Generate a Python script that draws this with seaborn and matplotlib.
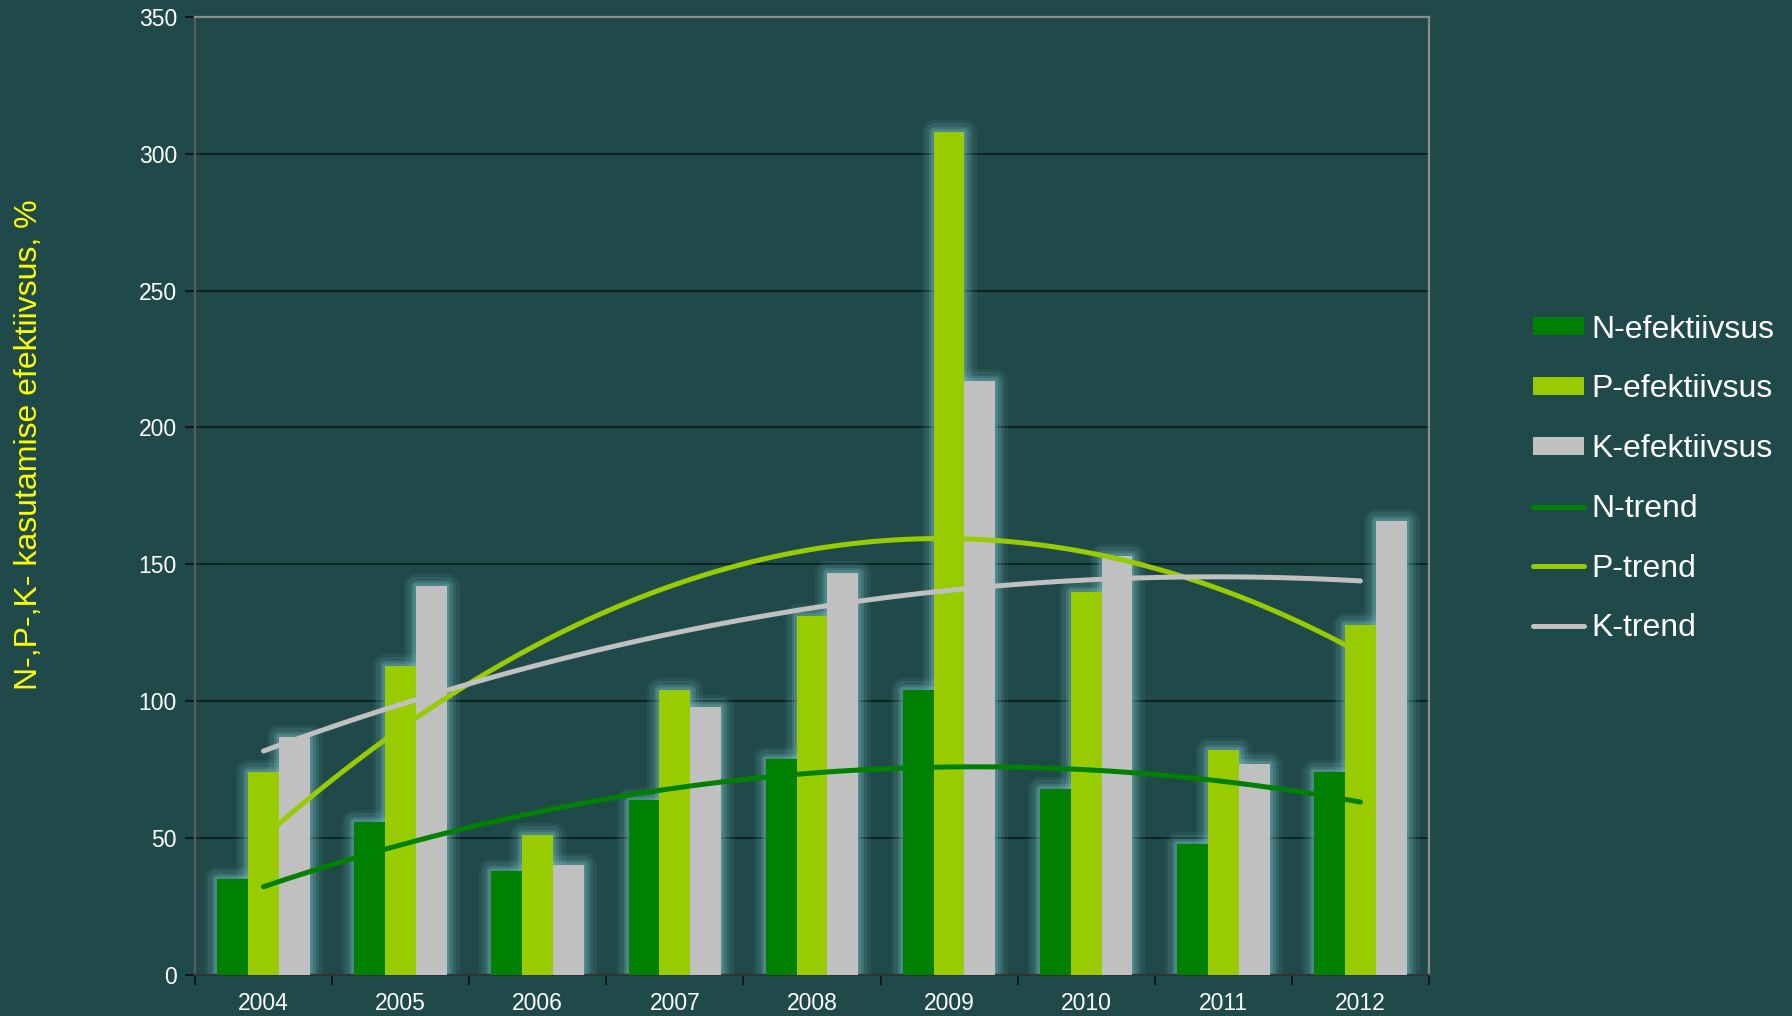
"""
N-, P-, K- kasutamise efektiivsus 2004-2012, tulbad + 2. astme trendijooned.
"""

import matplotlib
matplotlib.use("Agg")
import matplotlib.pyplot as plt
from matplotlib.lines import Line2D
from matplotlib.patches import Patch
import numpy as np
import pandas as pd
import seaborn as sns

# Data
YEARS = ["2004", "2005", "2006", "2007", "2008", "2009", "2010", "2011", "2012"]
N_EFF = [35, 56, 38, 64, 79, 104, 68, 48, 74]
P_EFF = [74, 113, 51, 104, 131, 308, 140, 82, 128]
K_EFF = [87, 142, 40, 98, 147, 217, 153, 77, 166]
SERIES = ["N-efektiivsus", "P-efektiivsus", "K-efektiivsus"]
TRENDS = ["N-trend", "P-trend", "K-trend"]
Y_TICKS = [0, 50, 100, 150, 200, 250, 300, 350]

# Styles
BG = "#204a4a"
COLORS = ["#008000", "#99cc00", "#c0c0c0"]
GLOW = "#7fc4c8"
FONT = ["Liberation Sans", "DejaVu Sans"]

sns.set_theme(style="white")
plt.rcParams["font.family"] = FONT


def main():
    df = pd.DataFrame({
        "aasta": YEARS * 3,
        "vaartus": N_EFF + P_EFF + K_EFF,
        "seeria": [s for s in SERIES for _ in YEARS],
    })

    fig = plt.figure(figsize=(17.92, 10.16), dpi=100, facecolor=BG)
    ax = fig.add_axes([0.1088, 0.0404, 0.6886, 0.943])
    ax.set_facecolor(BG)

    # soft glow behind the bars (several faint wide strokes)
    for lw, alpha in [(18, 0.08), (13, 0.12), (8, 0.18), (4, 0.25)]:
        sns.barplot(data=df, x="aasta", y="vaartus", hue="seeria", hue_order=SERIES,
                    palette=[GLOW] * 3, width=0.675, ax=ax, legend=False,
                    edgecolor=GLOW, linewidth=lw, alpha=alpha, joinstyle="round",
                    zorder=2)

    sns.barplot(data=df, x="aasta", y="vaartus", hue="seeria", hue_order=SERIES,
                palette=COLORS, width=0.675, ax=ax, legend=False,
                saturation=1, linewidth=0, zorder=3)

    # second-order polynomial trend lines
    xpos = np.arange(len(YEARS))
    for vals, color in zip([N_EFF, P_EFF, K_EFF], COLORS):
        sns.regplot(x=xpos, y=np.array(vals, dtype=float), order=2, ci=None,
                    scatter=False, truncate=True, ax=ax,
                    line_kws={"color": color, "lw": 3.6, "zorder": 4,
                              "solid_capstyle": "round"})

    ax.set_xlim(-0.5, len(YEARS) - 0.5)
    ax.set_ylim(0, 350)
    ax.set_yticks(Y_TICKS)
    ax.set_xticks(xpos)
    ax.set_xticklabels(YEARS)
    ax.set_xticks(np.arange(-0.5, len(YEARS)), minor=True)
    ax.set_xlabel("")
    ax.set_ylabel("N-,P-,K- kasutamise efektiivsus, %", color="#ffff00",
                  fontsize=23)
    ax.yaxis.set_label_coords(-0.122, 0.553)

    ax.yaxis.grid(True, color="#0d1f1f", lw=1.3, zorder=1)
    ax.set_axisbelow(True)
    ax.tick_params(axis="y", colors="#111111", labelcolor="white", labelsize=16.5,
                   length=7, width=1.2, direction="out", left=True, pad=6)
    ax.tick_params(axis="x", which="major", length=0, labelcolor="white",
                   labelsize=16.5, pad=12)
    ax.tick_params(axis="x", which="minor", length=7, width=1.2,
                   colors="#111111", bottom=True, direction="out")

    for side, col in [("left", "#5a5a5a"), ("top", "#8c8c8c"),
                      ("right", "#8c8c8c"), ("bottom", "#333333")]:
        ax.spines[side].set_visible(True)
        ax.spines[side].set_color(col)
        ax.spines[side].set_linewidth(1.6)

    handles = [Patch(facecolor=c, edgecolor="none") for c in COLORS]
    handles += [Line2D([0], [0], color=c, lw=3.6, solid_capstyle="round")
                for c in COLORS]
    fig.legend(handles, SERIES + TRENDS, loc="center left",
               bbox_to_anchor=(0.8395, 0.5286), frameon=False, fontsize=23,
               labelcolor="white", handlelength=1.6, handleheight=0.5,
               handletextpad=0.22, labelspacing=0.93)

    fig.savefig("out.png", dpi=100, facecolor=BG)
    plt.close(fig)


if __name__ == "__main__":
    main()
